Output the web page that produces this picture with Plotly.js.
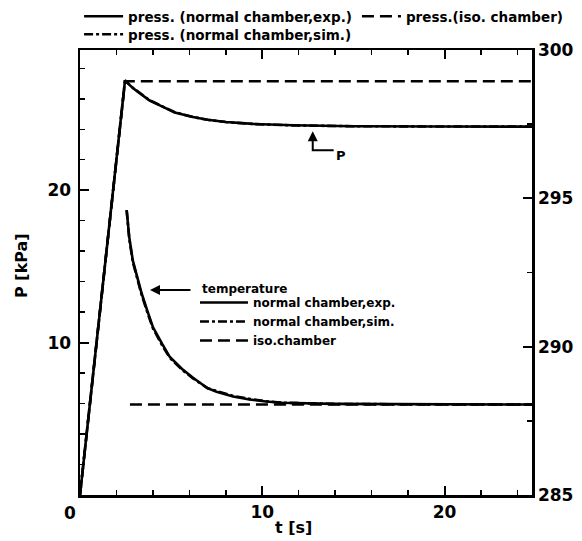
<!DOCTYPE html>
<html>
<head>
<meta charset="utf-8">
<script src="https://cdn.plot.ly/plotly-3.0.1.min.js"></script>
<style>
  html, body { margin: 0; padding: 0; background: #fff; }
  #chart { width: 582px; height: 541px; }
</style>
</head>
<body>
<div id="chart"></div>
<script>
// Chamber pressure (left axis, kPa) and gas temperature (right axis, K) vs time
const FONT = 'DejaVu Sans, Liberation Sans, sans-serif';

// pressure, normal chamber, experiment
const tPressExp = [0, 2.47, 2.9, 3.29, 3.8, 4.38, 5.2, 6.2, 7.0, 8.0, 9.5, 11.7, 15, 20, 24.8];
const pPressExp = [0, 27.2, 26.7, 26.34, 25.9, 25.57, 25.1, 24.8, 24.62, 24.48, 24.35, 24.26, 24.2, 24.18, 24.17];

// pressure, normal chamber, simulation
const tPressSim = [0, 2.47, 2.9, 3.29, 3.8, 4.38, 5.2, 6.2, 7.0, 8.0, 9.5, 11.7, 15, 20, 24.8];
const pPressSim = [0, 27.2, 26.72, 26.36, 25.92, 25.58, 25.12, 24.8, 24.62, 24.47, 24.34, 24.25, 24.2, 24.18, 24.17];

// pressure, isothermal chamber
const tPressIso = [0, 2.47, 24.8];
const pPressIso = [0, 27.15, 27.15];

// temperature, normal chamber, experiment
const tTempExp = [2.56, 2.7, 2.9, 3.1, 3.38, 3.7, 4.0, 4.5, 4.93, 5.6, 6.2, 7.0, 7.49, 8.4, 9.3, 10.2, 11.1, 13.9, 17, 20, 24.8];
const TTempExp = [294.6, 293.7, 292.9, 292.4, 291.8, 291.2, 290.66, 290.1, 289.65, 289.25, 288.95, 288.6, 288.48, 288.32, 288.22, 288.15, 288.11, 288.07, 288.06, 288.05, 288.05];

// temperature, normal chamber, simulation
const tTempSim = [2.56, 2.7, 2.9, 3.1, 3.38, 3.7, 4.0, 4.5, 4.93, 5.6, 6.2, 7.0, 7.49, 8.4, 9.3, 10.2, 11.1, 13.9, 17, 20, 24.8];
const TTempSim = [294.6, 293.65, 292.85, 292.35, 291.75, 291.15, 290.62, 290.05, 289.62, 289.22, 288.93, 288.6, 288.5, 288.34, 288.24, 288.16, 288.11, 288.07, 288.06, 288.05, 288.05];

// temperature, isothermal chamber
const tTempIso = [2.74, 24.8];
const TTempIso = [288.05, 288.05];

// axis ranges
const xRange = [0, 24.8];
const yRange = [0, 29.2];
const y2Range = [285, 300];

const W = 2.6;
const DASH = '12px,6px';

const traces = [
  { x: tPressSim, y: pPressSim, name: 'press. (normal chamber,sim.)', legend: 'legend3',
    mode: 'lines', line: { color: '#000', width: W, dash: 'dashdot' } },
  { x: tPressIso, y: pPressIso, name: 'press.(iso. chamber)', legend: 'legend', legendrank: 2,
    mode: 'lines', line: { color: '#000', width: W, dash: DASH } },
  { x: tPressExp, y: pPressExp, name: 'press. (normal chamber,exp.)', legend: 'legend', legendrank: 1,
    mode: 'lines', line: { color: '#000', width: W } },
  { x: tTempIso, y: TTempIso, yaxis: 'y2', name: 'iso.chamber', legend: 'legend2', legendrank: 3,
    mode: 'lines', line: { color: '#000', width: W, dash: DASH } },
  { x: tTempSim, y: TTempSim, yaxis: 'y2', name: 'normal chamber,sim.', legend: 'legend2', legendrank: 2,
    mode: 'lines', line: { color: '#000', width: W, dash: 'dashdot' } },
  { x: tTempExp, y: TTempExp, yaxis: 'y2', name: 'normal chamber,exp.', legend: 'legend2', legendrank: 1,
    mode: 'lines', line: { color: '#000', width: W } }
];

const tickFont = { family: FONT, size: 17, color: '#000', weight: 'bold' };
const titleFont = { family: FONT, size: 16, color: '#000', weight: 'bold' };
const topLegFont = { family: FONT, size: 13.5, color: '#000', weight: 'bold' };
const tempLegFont = { family: FONT, size: 12, color: '#000', weight: 'bold' };

const minorTicks = (tick0, dtick) => ({
  tickmode: 'linear', tick0: tick0, dtick: dtick, ticks: 'inside',
  ticklen: 5, tickwidth: 1.5, tickcolor: '#000', showgrid: false
});

const topLegend = (y) => ({
  orientation: 'h', xref: 'paper', yref: 'paper',
  x: -0.002, y: y, xanchor: 'left', yanchor: 'bottom',
  font: topLegFont, traceorder: 'normal', bgcolor: 'rgba(0,0,0,0)',
  itemwidth: 39, tracegroupgap: 0
});

const layout = {
  width: 582, height: 541,
  margin: { l: 80, r: 50, t: 50, b: 46, pad: 0, autoexpand: false },
  paper_bgcolor: '#fff', plot_bgcolor: '#fff',
  font: { family: FONT, color: '#000' },
  showlegend: true,
  legend: topLegend(1.0404),
  legend3: topLegend(1.0),
  legend2: {
    xref: 'container', yref: 'container', x: 0.335, y: 0.4677, xanchor: 'left', yanchor: 'top',
    font: tempLegFont, traceorder: 'normal', bgcolor: 'rgba(0,0,0,0)',
    itemwidth: 48, tracegroupgap: 0
  },
  xaxis: {
    range: xRange, tickmode: 'linear', tick0: 0, dtick: 10, labelalias: { '0': ' ' },
    ticks: 'inside', ticklen: 9, tickwidth: 2, tickcolor: '#000',
    minor: minorTicks(0, 2),
    showline: true, linewidth: 2.5, linecolor: '#000', mirror: 'ticks',
    showgrid: false, zeroline: false, tickfont: tickFont
  },
  yaxis: {
    range: yRange, tickmode: 'linear', tick0: 0, dtick: 10, labelalias: { '0': ' ' },
    ticks: 'inside', ticklen: 9, tickwidth: 2, tickcolor: '#000',
    minor: minorTicks(0, 2),
    showline: true, linewidth: 2.5, linecolor: '#000',
    showgrid: false, zeroline: false, tickfont: tickFont, ticklabelstandoff: 3
  },
  yaxis2: {
    overlaying: 'y', side: 'right', range: y2Range,
    tickmode: 'linear', tick0: 285, dtick: 5,
    ticks: 'inside', ticklen: 9, tickwidth: 2, tickcolor: '#000',
    minor: minorTicks(285, 2.5),
    showline: true, linewidth: 2.5, linecolor: '#000',
    showgrid: false, zeroline: false, tickfont: tickFont
  },
  shapes: [
    // elbow of the P callout
    { type: 'path', xref: 'x', yref: 'y', path: 'M 12.77,23.2 L 12.77,22.62 L 13.92,22.62',
      line: { color: '#000', width: 2 } }
  ],
  annotations: [
    // axis titles
    { xref: 'paper', yref: 'paper', x: 0.472, y: -0.072, text: 't [s]',
      xanchor: 'center', yanchor: 'middle', showarrow: false, font: titleFont },
    { xref: 'paper', yref: 'paper', x: -0.128, y: 0.515, text: 'P [kPa]', textangle: -90,
      xanchor: 'center', yanchor: 'middle', showarrow: false, font: titleFont },
    // shared origin label
    { xref: 'paper', yref: 'paper', x: -0.022, y: -0.04, text: '0',
      xanchor: 'center', yanchor: 'middle', showarrow: false, font: tickFont },
    // P callout
    { xref: 'x', yref: 'y', x: 12.77, y: 23.87, ax: 0, ay: 12,
      text: '', showarrow: true, arrowhead: 2, arrowsize: 1, arrowwidth: 2, arrowcolor: '#000' },
    { xref: 'x', yref: 'y', x: 14.3, y: 22.25, text: 'P', showarrow: false,
      font: { family: FONT, size: 13, color: '#000', weight: 'bold' } },
    // temperature callout
    { xref: 'x', yref: 'y2', x: 3.84, y: 291.91, ax: 42, ay: 0,
      text: '', showarrow: true, arrowhead: 2, arrowsize: 1, arrowwidth: 2, arrowcolor: '#000' },
    { xref: 'paper', yref: 'paper', x: 0.2655, y: 0.463, xanchor: 'left', yanchor: 'middle',
      text: 'temperature', showarrow: false, font: tempLegFont }
  ]
};

Plotly.newPlot('chart', traces, layout, { displayModeBar: false, staticPlot: true });
</script>
</body>
</html>
